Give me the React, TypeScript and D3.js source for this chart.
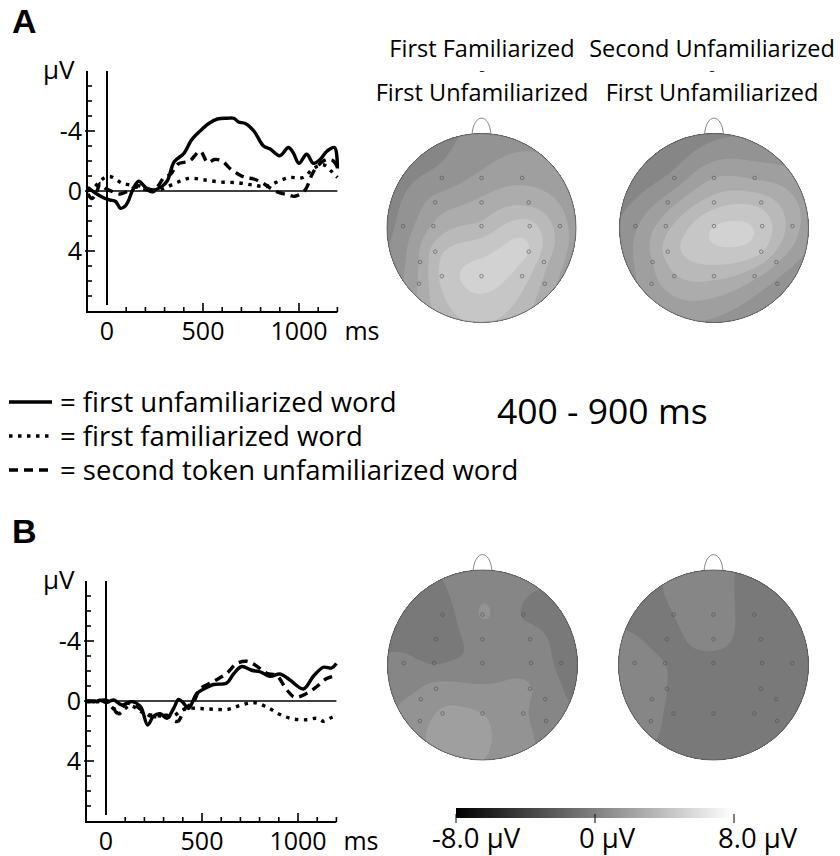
import React, { useMemo } from "react";
import * as d3 from "d3";

const FONT = "'Open Sans', 'Noto Sans', sans-serif";

// ---- ERP waveforms: [ms, µV] (negative plotted up) ----
const aFirstUnfam: [number, number][] = [
  [-100, -0.25], [-70, 0.05], [-40, 0.3], [-10, 0.5], [15, 0.6], [45, 0.7], [70, 1.15], [95, 1.0], [110, 0.7],
  [135, -0.1], [165, -0.65], [205, -0.2], [244, -0.07], [290, -0.35], [315, -0.7], [350, -1.95], [400, -2.5],
  [440, -3.4], [485, -4.0], [530, -4.5], [575, -4.8], [625, -4.85], [660, -4.85], [685, -4.6], [720, -4.5],
  [765, -4.0], [815, -3.0], [850, -2.8], [900, -2.35], [945, -2.9], [970, -2.55], [1000, -1.85], [1040, -2.45],
  [1075, -1.85], [1110, -2.1], [1145, -2.65], [1185, -2.9], [1200, -1.5],
];
const aFirstFam: [number, number][] = [
  [-100, 0.0], [-70, -0.2], [-40, -0.6], [-10, -0.9], [20, -0.95], [50, -0.75], [80, -0.5], [120, -0.4],
  [170, -0.2], [220, -0.05], [260, 0.0], [310, -0.25], [370, -0.6], [430, -0.85], [500, -0.75], [590, -0.6],
  [680, -0.55], [760, -0.4], [830, -0.3], [885, -0.6], [950, -0.9], [1020, -0.9], [1075, -1.5], [1125, -1.75],
  [1170, -1.3], [1200, -0.9],
];
const aSecondUnfam: [number, number][] = [
  [-100, 0.2], [-78, 0.5], [-55, 0.1], [-35, -0.5], [-10, -0.2], [30, 0.05], [69, 0.2], [110, 0.0],
  [165, -0.35], [205, -0.1], [240, 0.05], [275, -0.5], [300, -0.95], [330, -1.1], [370, -1.8], [430, -2.0],
  [485, -2.65], [525, -1.9], [560, -2.1], [600, -2.0], [640, -1.5], [680, -1.15], [720, -0.9], [765, -0.8],
  [815, -0.5], [850, -0.2], [884, 0.05], [940, 0.25], [979, 0.35], [1031, -0.05], [1066, -1.05], [1092, -1.6],
  [1144, -2.1], [1179, -2.0], [1200, -1.6],
];
const bFirstUnfam: [number, number][] = [
  [-100, 0], [-60, 0.05], [-30, -0.05], [0, 0.1], [40, -0.07], [83, 0.27], [135, 0.04], [180, 0.38],
  [217, 1.6], [248, 1.0], [282, 0.85], [317, 1.15], [352, 0.5], [378, -0.1], [404, 0.15], [430, 0.5],
  [473, -0.5], [516, -0.85], [560, -1.1], [629, -1.2], [664, -1.8], [707, -2.3], [759, -2.05], [802, -1.95],
  [854, -1.65], [906, -1.8], [958, -1.4], [1028, -0.8], [1080, -1.65], [1132, -2.25], [1175, -2.2], [1200, -2.5],
];
const bFirstFam: [number, number][] = [
  [-100, 0.05], [-50, 0.05], [0, 0.05], [30, 0.4], [66, 0.85], [100, 0.5], [127, 0.3], [160, 0.5],
  [196, 0.8], [240, 0.95], [282, 1.0], [320, 1.05], [352, 1.0], [385, 0.7], [421, 0.5], [490, 0.5],
  [560, 0.55], [638, 0.55], [698, 0.3], [768, 0.1], [837, 0.4], [906, 0.9], [976, 1.2], [1045, 1.25],
  [1097, 1.15], [1132, 1.35], [1175, 1.1], [1200, 1.0],
];
const bSecondUnfam: [number, number][] = [
  [-100, 0], [-50, 0], [0, -0.05], [30, 0.2], [57, 0.8], [85, 0.4], [109, 0.15], [150, 0.3], [196, 0.7],
  [230, 1.0], [265, 1.05], [317, 0.95], [350, 1.3], [375, 1.35], [412, 0.5], [456, 0.05], [490, -0.8],
  [560, -1.3], [629, -1.85], [681, -2.5], [733, -2.65], [776, -2.4], [837, -1.85], [889, -1.7], [941, -0.75],
  [984, -0.25], [1045, -0.5], [1097, -0.95], [1149, -1.5], [1200, -1.7],
];

const yTickLabels = [-4, 0, 4];
const xTickLabels = [0, 500, 1000];

const legendLabels = [
  "= first unfamiliarized word",
  "= first familiarized word",
  "= second token unfamiliarized word",
];
const dashes: (string | undefined)[] = [undefined, "3.5 5.5", "9 6"];

// ---- topographic maps: electrode positions (unit head radius) and values (µV) ----
const elecPos: [number, number][] = [
  [-0.42, -0.53], [0, -0.53], [0.43, -0.53],
  [-0.49, -0.27], [0, -0.27], [0.5, -0.27],
  [-0.83, -0.02], [-0.51, -0.02], [0, -0.02], [0.51, -0.02], [0.83, -0.02],
  [-0.49, 0.25], [0.5, 0.25],
  [-0.65, 0.36], [0.66, 0.36],
  [-0.42, 0.51], [0, 0.51], [0.43, 0.51],
  [-0.66, 0.59], [0.67, 0.59],
];
const topoA1 = [1.1, 1.8, 2.2, 1.9, 2.6, 3.0, 1.1, 2.5, 3.4, 4.3, 2.8, 3.6, 4.8, 2.5, 3.5, 4.2, 5.0, 4.4, 2.5, 3.0];
const topoA2 = [1.1, 2.4, 2.3, 2.0, 3.6, 3.7, 1.5, 2.9, 4.8, 4.5, 2.8, 3.5, 4.1, 2.4, 2.5, 3.1, 3.4, 2.6, 2.1, 1.4];
const topoB1 = [-0.4, 0.85, -0.05, -0.5, 0.4, 0.3, 0.25, -0.05, 0.2, 0.45, -0.15, 1.1, 0.85, 1.0, 0.4, 1.7, 1.6, 0.9, 1.4, 0.5];
const topoB2 = [0.0, 0.5, -0.55, -0.2, 0.3, -0.55, 0.35, 0.0, -0.3, -0.45, -0.6, 0.0, -0.4, 0.3, -0.4, -0.2, -0.3, -0.4, 0.2, -0.4];

const titles = [
  ["First Familiarized", "First Unfamiliarized"],
  ["Second Unfamiliarized", "First Unfamiliarized"],
];
const colorTicks = [-8, 0, 8];
const colorTickLabels = ["-8.0 µV", "0 µV", "8.0 µV"];

const gray = d3.scaleLinear<string>().domain([-8, 8]).range(["#000000", "#ffffff"]).clamp(true);
const levels = d3.range(-8, 8.001, 0.8);

function solve(A: number[][], b: number[]) {
  const n = b.length;
  const M = A.map((row, i) => [...row, b[i]]);
  for (let c = 0; c < n; c++) {
    let p = c;
    for (let r = c + 1; r < n; r++) if (Math.abs(M[r][c]) > Math.abs(M[p][c])) p = r;
    [M[c], M[p]] = [M[p], M[c]];
    for (let r = c + 1; r < n; r++) {
      const f = M[r][c] / M[c][c];
      for (let k = c; k <= n; k++) M[r][k] -= f * M[c][k];
    }
  }
  const x = new Array(n).fill(0);
  for (let r = n - 1; r >= 0; r--) {
    let s = M[r][n];
    for (let k = r + 1; k < n; k++) s -= M[r][k] * x[k];
    x[r] = s / M[r][r];
  }
  return x;
}

const GRID = 140;
const EXT = 1.03;

// biharmonic spline interpolation (like griddata v4) onto a grid, then filled contours
function topoContours(vals: number[]) {
  const g = (r: number) => (r === 0 ? 0 : r * r * (Math.log(r) - 1));
  const A = elecPos.map((p) => elecPos.map((q) => g(Math.hypot(p[0] - q[0], p[1] - q[1]))));
  const w = solve(A, vals);
  const grid: number[] = new Array(GRID * GRID);
  for (let j = 0; j < GRID; j++) {
    const y = -EXT + ((j + 0.5) / GRID) * 2 * EXT;
    for (let i = 0; i < GRID; i++) {
      const x = -EXT + ((i + 0.5) / GRID) * 2 * EXT;
      let s = 0;
      for (let k = 0; k < elecPos.length; k++) s += w[k] * g(Math.hypot(x - elecPos[k][0], y - elecPos[k][1]));
      grid[j * GRID + i] = s;
    }
  }
  return d3.contours().size([GRID, GRID]).thresholds(levels)(grid);
}

function Topo({ id, cx, cy, r, vals }: { id: string; cx: number; cy: number; r: number; vals: number[] }) {
  const contours = useMemo(() => topoContours(vals), [vals]);
  const path = d3.geoPath();
  const k = (2 * EXT * r) / GRID;
  return (
    <g>
      <defs>
        <clipPath id={id}>
          <circle cx={cx} cy={cy} r={r} />
        </clipPath>
      </defs>
      <path
        d={`M${cx - 9.5},${cy - r + 1.5} C${cx - 8},${cy - r - 21} ${cx + 8},${cy - r - 21} ${cx + 9.5},${cy - r + 1.5}`}
        fill="none"
        stroke="#666"
        strokeWidth={0.8}
      />
      <g clipPath={`url(#${id})`}>
        <g transform={`translate(${cx - EXT * r},${cy - EXT * r}) scale(${k})`}>
          {contours.map((c, i) => (
            <path key={i} d={path(c as any) || ""} fill={gray(c.value + 0.4)} stroke="none" />
          ))}
        </g>
      </g>
      <circle cx={cx} cy={cy} r={r} fill="none" stroke="#5a5a5a" strokeWidth={0.8} />
      {elecPos.map((p, i) => (
        <circle key={i} cx={cx + p[0] * r} cy={cy + p[1] * r} r={1.8} fill="none" stroke="#505050" strokeWidth={0.6} />
      ))}
    </g>
  );
}

function Erp({ x0, y0, label, series }: { x0: number; y0: number; label: string; series: [number, number][][] }) {
  const x = d3.scaleLinear().domain([-100, 1200]).range([x0 + 0.8, x0 + 250.4]);
  const y = d3.scaleLinear().domain([-8, 8]).range([y0, y0 + 240]);
  const line = d3
    .line<[number, number]>()
    .x((d) => x(d[0]))
    .y((d) => y(d[1]))
    .curve(d3.curveCatmullRom);
  const bottom = y(8) + 1;
  return (
    <g fontFamily={FONT}>
      <text x={12} y={y0 - 38} fontFamily="Arial, 'Liberation Sans', sans-serif" fontWeight="bold" fontSize={34}>
        {label}
      </text>
      <text x={43} y={y0 + 8} fontSize={26}>µV</text>
      {/* y axis */}
      <line x1={x0} x2={x0} y1={y0} y2={bottom + 1} stroke="#000" strokeWidth={2} />
      {d3.range(-7, 8).map((v) => (
        <line
          key={v}
          x1={yTickLabels.includes(v) ? x0 - 2 : x0}
          x2={x0 + (yTickLabels.includes(v) ? 8 : 5)}
          y1={y(v)}
          y2={y(v)}
          stroke="#000"
          strokeWidth={1.6}
        />
      ))}
      {yTickLabels.map((v) => (
        <text key={v} x={x0 - 5} y={y(v) + 9} fontSize={25} textAnchor="end">
          {v}
        </text>
      ))}
      {/* x axis */}
      <line x1={x0 - 1} x2={x(1200)} y1={bottom} y2={bottom} stroke="#000" strokeWidth={2} />
      {d3.range(100, 1201, 100).map((t) => (
        <line
          key={t}
          x1={x(t)}
          x2={x(t)}
          y1={bottom}
          y2={bottom - (xTickLabels.includes(t) ? 9 : 5)}
          stroke="#000"
          strokeWidth={1.6}
        />
      ))}
      {xTickLabels.map((t) => (
        <text key={t} x={x(t)} y={bottom + 28} fontSize={25} textAnchor="middle">
          {t}
        </text>
      ))}
      <text x={x(1200) + 7} y={bottom + 28} fontSize={25}>ms</text>
      {/* zero lines */}
      <line x1={x0} x2={x(1200)} y1={y(0)} y2={y(0)} stroke="#000" strokeWidth={1.5} />
      <line x1={x(0)} x2={x(0)} y1={y0} y2={y(7.6)} stroke="#000" strokeWidth={2} />
      {series.map((s, i) => (
        <path key={i} d={line(s) || ""} fill="none" stroke="#000" strokeWidth={3.4} strokeDasharray={dashes[i]} />
      ))}
    </g>
  );
}

export default function App() {
  const cbX = d3.scaleLinear().domain([-8, 8]).range([456, 734]);
  return (
    <svg
      width={840}
      height={856}
      viewBox="0 0 840 856"
      style={{ position: "absolute", left: 0, top: 0, background: "#fff" }}
    >
      <rect width={840} height={856} fill="#fff" />
      <Erp x0={87} y0={71} label="A" series={[aFirstUnfam, aFirstFam, aSecondUnfam]} />
      <Erp x0={86} y0={581} label="B" series={[bFirstUnfam, bFirstFam, bSecondUnfam]} />

      {/* titles */}
      <g fontFamily={FONT} fontSize={23.5} textAnchor="middle">
        {titles.map((t, i) => (
          <g key={i}>
            <text x={i === 0 ? 482 : 712} y={57}>{t[0]}</text>
            <text x={i === 0 ? 482 : 712} y={74} fontSize={10}>–</text>
            <text x={i === 0 ? 482 : 712} y={101}>{t[1]}</text>
          </g>
        ))}
      </g>

      <Topo id="tA1" cx={481.5} cy={228} r={94.5} vals={topoA1} />
      <Topo id="tA2" cx={714} cy={228} r={94.5} vals={topoA2} />
      <Topo id="tB1" cx={482.5} cy={665} r={95} vals={topoB1} />
      <Topo id="tB2" cx={713.5} cy={665} r={95} vals={topoB2} />

      {/* legend */}
      <g fontFamily={FONT} fontSize={27.5}>
        {legendLabels.map((l, i) => (
          <g key={i}>
            <line
              x1={9}
              x2={52}
              y1={402 + i * 34}
              y2={402 + i * 34}
              stroke="#000"
              strokeWidth={3.4}
              strokeDasharray={dashes[i]}
            />
            <text x={60} y={412 + i * 34}>{l}</text>
          </g>
        ))}
      </g>
      <text x={497} y={424} fontFamily={FONT} fontSize={35.5}>400 - 900 ms</text>

      {/* colour bar */}
      <defs>
        <linearGradient id="cbar" x1="0" x2="1" y1="0" y2="0">
          <stop offset="0" stopColor={gray(-8)} />
          <stop offset="0.5" stopColor={gray(0)} />
          <stop offset="1" stopColor={gray(8)} />
        </linearGradient>
      </defs>
      <rect x={cbX(-8)} y={808} width={cbX(8) - cbX(-8)} height={10} fill="url(#cbar)" />
      {colorTicks.map((v, i) => (
        <g key={v}>
          <line x1={cbX(v)} x2={cbX(v)} y1={814} y2={823} stroke="#000" strokeWidth={1} />
          <text x={cbX(v) - (i === 0 ? 24 : 16)} y={848} fontFamily={FONT} fontSize={27.5}>
            {colorTickLabels[i]}
          </text>
        </g>
      ))}
    </svg>
  );
}
